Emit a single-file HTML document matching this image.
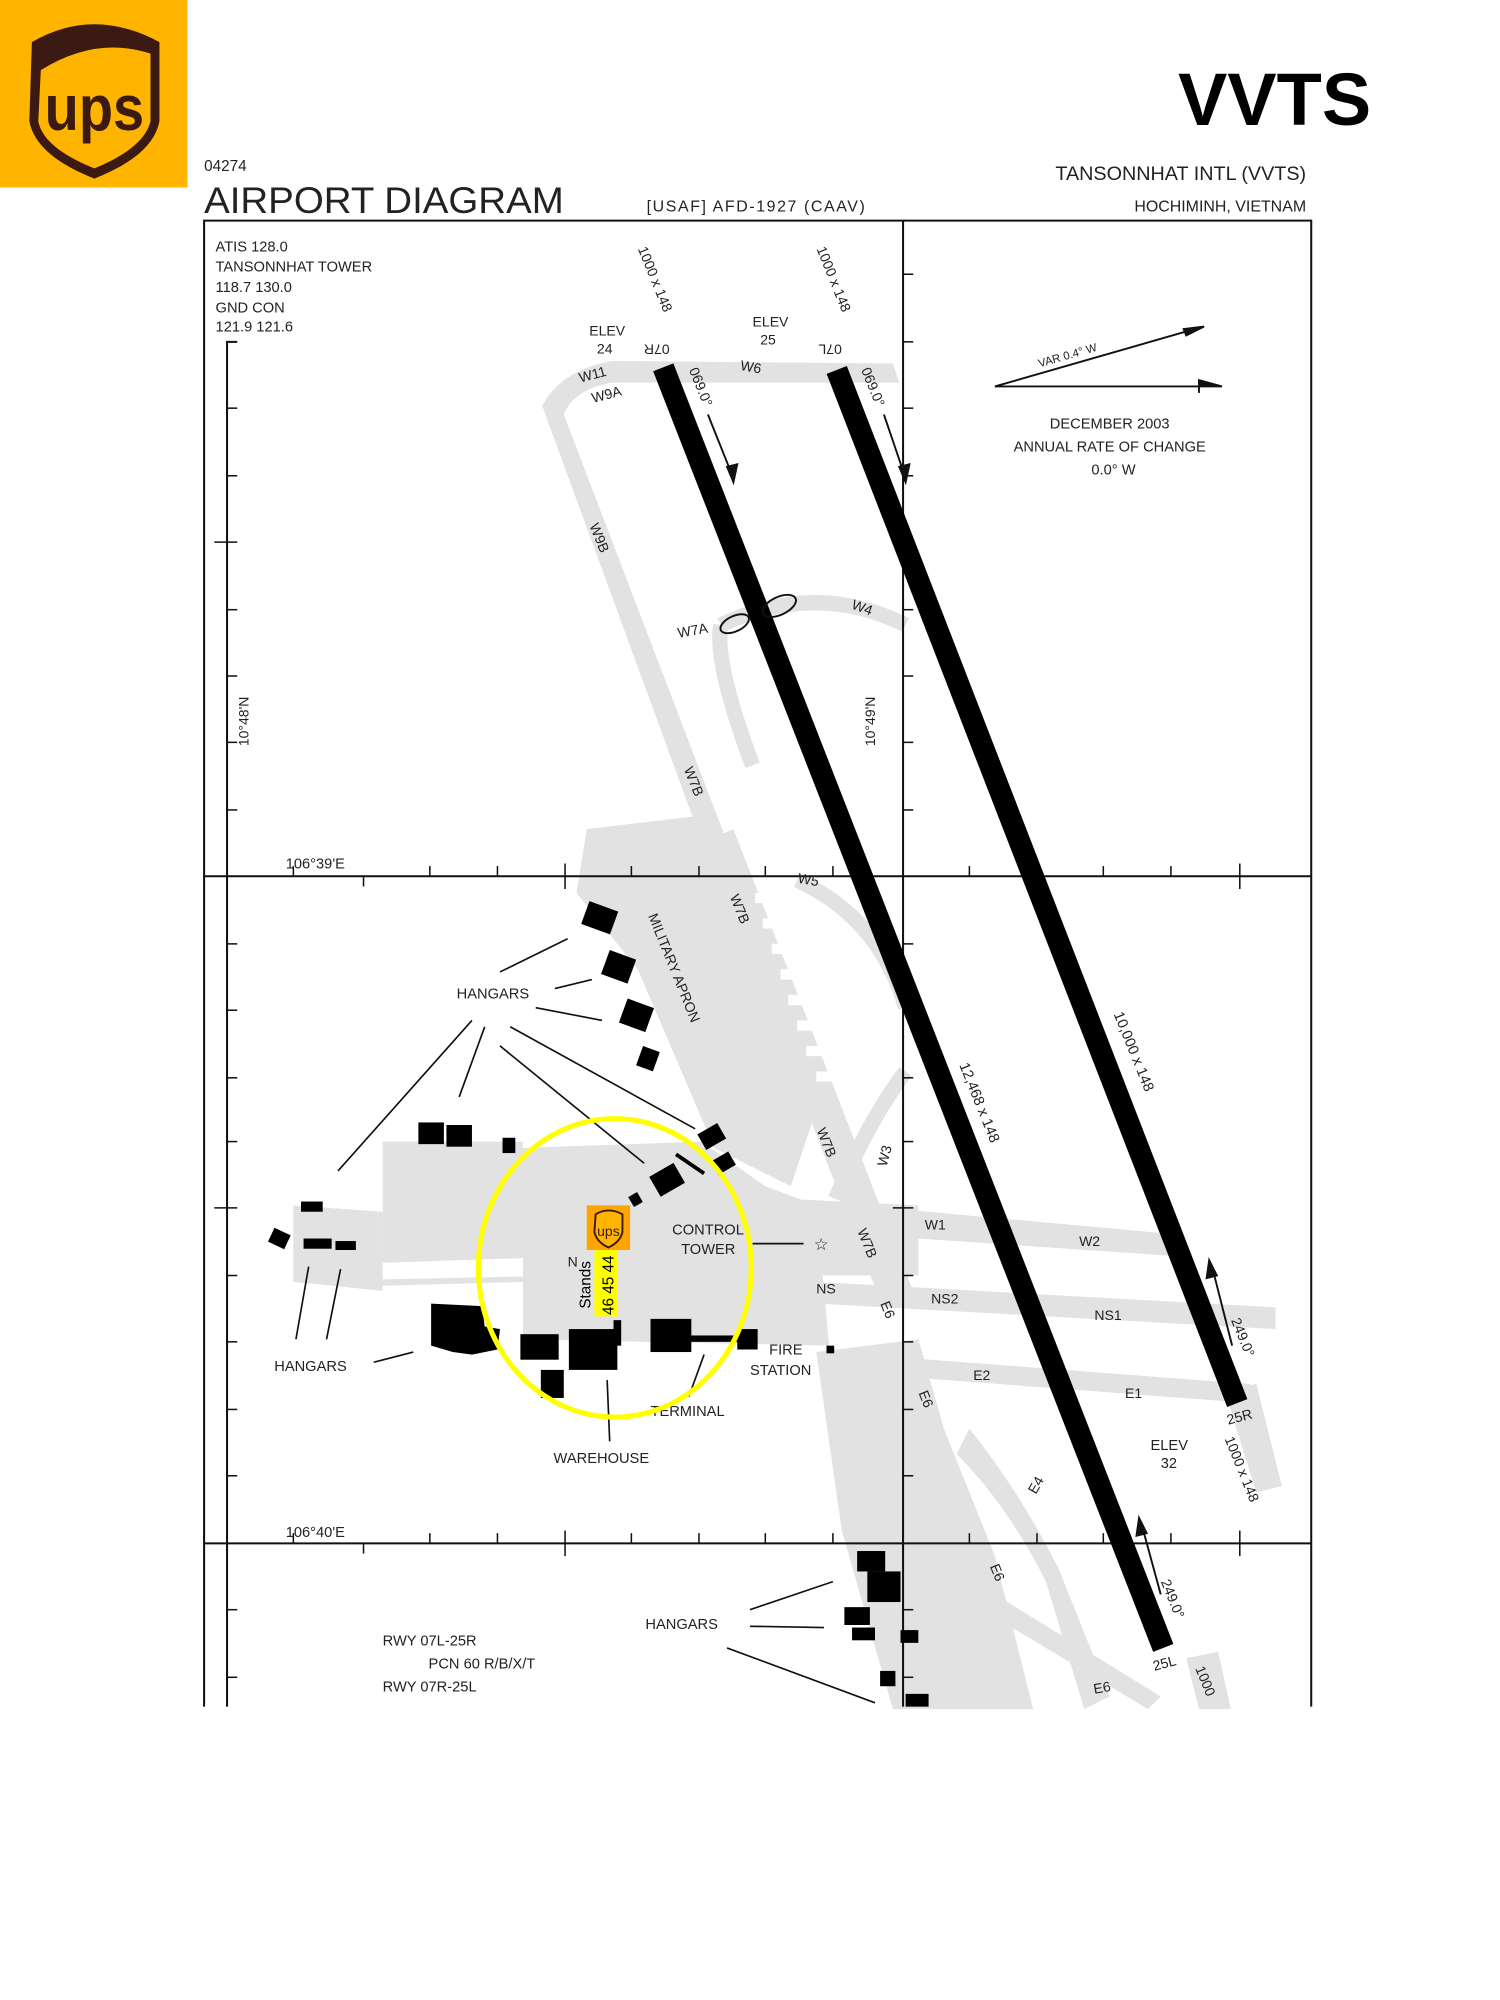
<!DOCTYPE html>
<html><head><meta charset="utf-8"><style>
html,body{margin:0;padding:0;background:#fff;width:1500px;height:2000px;overflow:hidden}
svg{display:block}
text{font-family:"Liberation Sans",sans-serif;fill:#222}
</style></head><body>
<svg width="1500" height="2000" viewBox="0 0 1176 1568" preserveAspectRatio="none" xmlns="http://www.w3.org/2000/svg">
<!-- UPS logo -->
<rect x="0" y="0" width="147" height="147" fill="#FFB500"/>
<path d="M25 33 Q73 5 125 33 L125 95 Q120 122 74 140 Q28 122 23 95 Z" fill="#3a1a12"/>
<path d="M32 55 Q75 28 118 42 L118 95 Q113 116 74 132 Q34 116 30 95 Z" fill="#FFB500"/>
<text x="74" y="102" font-size="50" font-weight="bold" text-anchor="middle" style="fill:#3a1a12" textLength="78" lengthAdjust="spacingAndGlyphs">ups</text>
<text x="1075" y="98" font-size="58" font-weight="bold" text-anchor="end" style="fill:#000">VVTS</text>

<text x="160" y="134" font-size="12">04274</text>
<text x="160" y="167" font-size="29" textLength="282" lengthAdjust="spacingAndGlyphs">AIRPORT DIAGRAM</text>
<text x="507" y="166" font-size="12.5" textLength="171">[USAF] AFD-1927 (CAAV)</text>
<text x="1024" y="141" font-size="15.5" text-anchor="end">TANSONNHAT INTL   (VVTS)</text>
<text x="1024" y="166" font-size="12.5" text-anchor="end">HOCHIMINH, VIETNAM</text>

<!-- grey taxiways/aprons -->
<g fill="#e2e2e2" stroke="none">
<path d="M425 318 Q440 290 480 283 L700 285 L705 300 L480 300 Q450 305 442 325 L570 660 L552 665 Z"/>
<path d="M552 660 L575 650 L715 1010 L690 1020 Z"/>
<path d="M460 650 L545 640 L640 870 L620 930 L560 900 L500 760 L452 700 Z"/>
<path d="M300 895 L410 895 L410 1005 L300 1008 Z"/>
<path d="M230 945 L300 950 L300 1012 L230 1005 Z"/>
<path d="M300 990 L450 985 L450 1000 L300 1003 Z" fill="#fff"/>
<path d="M410 900 L550 895 L600 930 L640 945 L650 1055 L410 1050 Z"/>
<path d="M620 940 L720 945 L720 1000 L640 1000 Z"/>
<path d="M705 948 L925 968 L925 985 L705 970 Z"/>
<path d="M640 1005 L1000 1025 L1000 1042 L640 1022 Z"/>
<path d="M650 1060 L980 1085 L980 1100 L650 1075 Z"/>
<path d="M960 1090 L985 1085 L1005 1165 L985 1170 Z"/>
<path d="M640 1060 L720 1050 L740 1120 L780 1220 L810 1340 L700 1340 L660 1200 Z"/>
<path d="M760 1120 Q800 1170 830 1230 L870 1330 L850 1340 L820 1240 Q790 1180 750 1140 Z"/>
<path d="M780 1250 L910 1330 L900 1340 L775 1265 Z"/>
<path d="M930 1300 L955 1295 L965 1340 L940 1340 Z"/>
</g>
<g fill="none" stroke="#e2e2e2" stroke-width="12">
<path d="M565 490 Q640 455 710 490"/>
<path d="M625 690 Q690 720 710 790"/>
<path d="M655 940 Q680 880 710 840"/>
<path d="M590 600 Q560 520 565 490"/>
</g>
<g fill="#fff">
<rect x="592" y="700" width="14" height="8"/><rect x="598" y="720" width="14" height="8"/><rect x="605" y="740" width="14" height="8"/><rect x="612" y="760" width="14" height="8"/><rect x="618" y="780" width="14" height="8"/><rect x="625" y="800" width="14" height="8"/><rect x="632" y="820" width="14" height="8"/><rect x="640" y="840" width="14" height="8"/>
</g>

<!-- frame -->
<g stroke="#111" fill="none" stroke-width="1.6">
<path d="M160 1338 L160 173 L1028 173 L1028 1338"/>
<line x1="708" y1="173" x2="708" y2="1338"/>
<line x1="160" y1="687" x2="1028" y2="687"/>
<line x1="160" y1="1210" x2="1028" y2="1210"/>
<path d="M186 268 L178 268 L178 1338"/>
</g>
<g stroke="#111" stroke-width="1.2">
<line x1="178" y1="320" x2="186" y2="320"/><line x1="168" y1="425" x2="186" y2="425"/><line x1="178" y1="373" x2="186" y2="373"/><line x1="178" y1="478" x2="186" y2="478"/><line x1="178" y1="530" x2="186" y2="530"/><line x1="178" y1="582" x2="186" y2="582"/><line x1="178" y1="635" x2="186" y2="635"/><line x1="178" y1="740" x2="186" y2="740"/><line x1="178" y1="792" x2="186" y2="792"/><line x1="178" y1="845" x2="186" y2="845"/><line x1="168" y1="947" x2="186" y2="947"/><line x1="178" y1="895" x2="186" y2="895"/><line x1="178" y1="1000" x2="186" y2="1000"/><line x1="178" y1="1052" x2="186" y2="1052"/><line x1="178" y1="1105" x2="186" y2="1105"/><line x1="178" y1="1157" x2="186" y2="1157"/><line x1="178" y1="1262" x2="186" y2="1262"/><line x1="178" y1="1315" x2="186" y2="1315"/>
<line x1="708" y1="215" x2="716" y2="215"/><line x1="708" y1="268" x2="716" y2="268"/><line x1="708" y1="320" x2="716" y2="320"/><line x1="708" y1="373" x2="716" y2="373"/><line x1="700" y1="425" x2="716" y2="425"/><line x1="708" y1="478" x2="716" y2="478"/><line x1="708" y1="530" x2="716" y2="530"/><line x1="708" y1="582" x2="716" y2="582"/><line x1="708" y1="635" x2="716" y2="635"/><line x1="708" y1="740" x2="716" y2="740"/><line x1="708" y1="792" x2="716" y2="792"/><line x1="708" y1="845" x2="716" y2="845"/><line x1="700" y1="947" x2="716" y2="947"/><line x1="708" y1="895" x2="716" y2="895"/><line x1="708" y1="1000" x2="716" y2="1000"/><line x1="708" y1="1052" x2="716" y2="1052"/><line x1="708" y1="1105" x2="716" y2="1105"/><line x1="708" y1="1157" x2="716" y2="1157"/><line x1="708" y1="1262" x2="716" y2="1262"/><line x1="708" y1="1315" x2="716" y2="1315"/>
<line x1="230" y1="687" x2="230" y2="679"/><line x1="285" y1="687" x2="285" y2="695"/><line x1="337" y1="687" x2="337" y2="679"/><line x1="390" y1="687" x2="390" y2="679"/><line x1="443" y1="677" x2="443" y2="697"/><line x1="495" y1="687" x2="495" y2="679"/><line x1="548" y1="687" x2="548" y2="679"/><line x1="600" y1="687" x2="600" y2="679"/><line x1="653" y1="687" x2="653" y2="679"/><line x1="760" y1="687" x2="760" y2="679"/><line x1="813" y1="687" x2="813" y2="679"/><line x1="865" y1="687" x2="865" y2="679"/><line x1="918" y1="687" x2="918" y2="679"/><line x1="972" y1="677" x2="972" y2="697"/>
<line x1="230" y1="1210" x2="230" y2="1202"/><line x1="285" y1="1210" x2="285" y2="1218"/><line x1="337" y1="1210" x2="337" y2="1202"/><line x1="390" y1="1210" x2="390" y2="1202"/><line x1="443" y1="1200" x2="443" y2="1220"/><line x1="495" y1="1210" x2="495" y2="1202"/><line x1="548" y1="1210" x2="548" y2="1202"/><line x1="600" y1="1210" x2="600" y2="1202"/><line x1="653" y1="1210" x2="653" y2="1202"/><line x1="760" y1="1210" x2="760" y2="1202"/><line x1="813" y1="1210" x2="813" y2="1202"/><line x1="865" y1="1210" x2="865" y2="1202"/><line x1="918" y1="1210" x2="918" y2="1202"/><line x1="972" y1="1200" x2="972" y2="1220"/>
</g>

<!-- runways -->
<line x1="520" y1="288" x2="912" y2="1292" stroke="#000" stroke-width="17"/>
<line x1="656" y1="290" x2="970" y2="1100" stroke="#000" stroke-width="17"/>
<ellipse cx="576" cy="489" rx="12" ry="6" fill="none" stroke="#111" stroke-width="1.5" transform="rotate(-25 576 489)"/>
<ellipse cx="611" cy="475" rx="14" ry="7" fill="none" stroke="#111" stroke-width="1.5" transform="rotate(-25 611 475)"/>

<!-- variation arrows -->
<g stroke="#111" stroke-width="1.5" fill="#111">
<line x1="780" y1="303" x2="940" y2="257"/>
<line x1="780" y1="303" x2="940" y2="303"/>
<polygon points="940,303 958,303 940,298 940,308" />
<polygon points="944,256 928,258 930,263"/>
<line x1="555" y1="325" x2="575" y2="375"/><polygon points="575,378 570,366 578,364"/>
<line x1="693" y1="325" x2="710" y2="375"/><polygon points="710,378 705,366 713,364"/>
<line x1="966" y1="1055" x2="950" y2="992"/><polygon points="948,988 946,1002 954,1000"/>
<line x1="910" y1="1250" x2="895" y2="1195"/><polygon points="893,1190 891,1204 899,1202"/>
</g>

<!-- buildings -->
<g fill="#000">
<rect x="458" y="710" width="24" height="19" transform="rotate(20 470 720)"/>
<rect x="474" y="748" width="22" height="20" transform="rotate(20 485 758)"/>
<rect x="488" y="786" width="22" height="20" transform="rotate(20 499 796)"/>
<rect x="501" y="822" width="14" height="16" transform="rotate(20 508 830)"/>
<rect x="328" y="880" width="20" height="17"/><rect x="350" y="882" width="20" height="17"/><rect x="394" y="892" width="10" height="12"/>
<rect x="549" y="884" width="18" height="14" transform="rotate(-30 558 891)"/>
<rect x="559" y="906" width="16" height="12" transform="rotate(-30 567 912)"/>
<rect x="512" y="916" width="22" height="18" transform="rotate(-30 523 925)"/>
<rect x="494" y="936" width="8" height="9" transform="rotate(-30 498 940)"/>
<line x1="530" y1="905" x2="552" y2="920" stroke="#000" stroke-width="3"/>
<rect x="236" y="942" width="17" height="8"/><rect x="212" y="965" width="14" height="12" transform="rotate(25 219 971)"/><rect x="238" y="971" width="22" height="8"/><rect x="263" y="973" width="16" height="7"/>
<path d="M338 1022 L378 1024 L380 1040 L392 1042 L390 1058 L370 1062 L355 1060 L338 1055 Z"/>
<rect x="408" y="1046" width="30" height="20"/><rect x="446" y="1042" width="38" height="32"/><rect x="481" y="1035" width="6" height="20"/><rect x="424" y="1074" width="18" height="22"/>
<rect x="510" y="1034" width="32" height="26"/><rect x="540" y="1047" width="40" height="5"/><rect x="578" y="1042" width="16" height="16"/>
<rect x="648" y="1055" width="6" height="6"/>
<rect x="672" y="1216" width="22" height="16"/><rect x="680" y="1232" width="26" height="24"/><rect x="662" y="1260" width="20" height="14"/><rect x="668" y="1276" width="18" height="10"/><rect x="706" y="1278" width="14" height="10"/><rect x="690" y="1310" width="12" height="12"/><rect x="710" y="1328" width="18" height="10"/>
</g>

<!-- arrows for labels -->
<g stroke="#111" stroke-width="1.3" fill="none">
<line x1="392" y1="762" x2="445" y2="736"/><line x1="435" y1="775" x2="464" y2="768"/><line x1="420" y1="790" x2="472" y2="800"/>
<line x1="370" y1="800" x2="265" y2="918"/><line x1="380" y1="805" x2="360" y2="860"/><line x1="392" y1="820" x2="505" y2="912"/><line x1="400" y1="805" x2="545" y2="885"/>
<line x1="232" y1="1050" x2="242" y2="993"/><line x1="256" y1="1050" x2="267" y2="995"/><line x1="293" y1="1068" x2="324" y2="1060"/>
<line x1="478" y1="1130" x2="476" y2="1082"/><line x1="540" y1="1095" x2="552" y2="1062"/>
<line x1="590" y1="975" x2="630" y2="975"/>
<line x1="588" y1="1262" x2="653" y2="1240"/><line x1="588" y1="1275" x2="646" y2="1276"/><line x1="570" y1="1292" x2="686" y2="1335"/>
</g>
<text x="638" y="980" font-size="13">☆</text>

<!-- text labels -->
<g font-size="11.5">
<text x="169" y="197">ATIS  128.0</text>
<text x="169" y="213">TANSONNHAT TOWER</text>
<text x="169" y="229">118.7  130.0</text>
<text x="169" y="245">GND CON</text>
<text x="169" y="260">121.9  121.6</text>
<text x="462" y="263" font-size="11">ELEV</text><text x="468" y="277" font-size="11">24</text>
<text x="590" y="256" font-size="11">ELEV</text><text x="596" y="270" font-size="11">25</text>
<text x="455" y="300" font-size="11" transform="rotate(-15 455 300)">W11</text>
<text x="465" y="316" font-size="11" transform="rotate(-15 465 316)">W9A</text>
<text x="580" y="290" font-size="11" transform="rotate(10 580 290)">W6</text>
<text x="505" y="278" font-size="11" transform="rotate(180 515 274)">07R</text>
<text x="640" y="278" font-size="11" transform="rotate(180 650 274)">07L</text>
<text x="500" y="195" font-size="11" transform="rotate(68 500 195)">1000 x 148</text>
<text x="640" y="195" font-size="11" transform="rotate(68 640 195)">1000 x 148</text>
<text x="540" y="290" font-size="11" transform="rotate(68 540 290)">069.0°</text>
<text x="675" y="290" font-size="11" transform="rotate(68 675 290)">069.0°</text>
<text x="815" y="288" font-size="9" transform="rotate(-16 815 288)">VAR 0.4° W</text>
<text x="870" y="336" text-anchor="middle">DECEMBER 2003</text>
<text x="870" y="354" text-anchor="middle">ANNUAL RATE OF CHANGE</text>
<text x="873" y="372" text-anchor="middle">0.0° W</text>
<text x="462" y="412" font-size="11" transform="rotate(68 462 412)">W9B</text>
<text x="532" y="500" font-size="11" transform="rotate(-10 532 500)">W7A</text>
<text x="667" y="477" font-size="11" transform="rotate(20 667 477)">W4</text>
<text x="195" y="585" font-size="11" transform="rotate(90 195 585) rotate(180 195 585)">10°48'N</text>
<text x="686" y="585" font-size="11" transform="rotate(90 686 585) rotate(180 686 585)">10°49'N</text>
<text x="536" y="603" font-size="11" transform="rotate(68 536 603)">W7B</text>
<text x="224" y="681">106°39'E</text>
<text x="625" y="692" font-size="11" transform="rotate(10 625 692)">W5</text>
<text x="572" y="703" font-size="11" transform="rotate(68 572 703)">W7B</text>
<text x="508" y="718" font-size="11" transform="rotate(68 508 718)">MILITARY APRON</text>
<text x="358" y="783">HANGARS</text>
<text x="873" y="795" font-size="11.5" transform="rotate(68 873 795)">10,000 x 148</text>
<text x="752" y="835" font-size="11.5" transform="rotate(68 752 835)">12,468 x 148</text>
<text x="640" y="886" font-size="11" transform="rotate(68 640 886)">W7B</text>
<text x="695" y="915" font-size="11" transform="rotate(-75 695 915)">W3</text>
<text x="527" y="968">CONTROL</text><text x="534" y="983">TOWER</text>
<text x="725" y="964" font-size="11">W1</text>
<text x="846" y="977" font-size="11">W2</text>
<text x="672" y="965" font-size="11" transform="rotate(68 672 965)">W7B</text>
<text x="640" y="1014" font-size="11">NS</text>
<text x="730" y="1022" font-size="11">NS2</text>
<text x="858" y="1035" font-size="11">NS1</text>
<text x="690" y="1022" font-size="11" transform="rotate(68 690 1022)">E6</text>
<text x="965" y="1035" font-size="11" transform="rotate(68 965 1035)">249.0°</text>
<text x="445" y="993" font-size="11">N</text>
<text x="215" y="1075">HANGARS</text>
<text x="603" y="1062">FIRE</text><text x="588" y="1078">STATION</text>
<text x="763" y="1082" font-size="11">E2</text>
<text x="882" y="1096" font-size="11">E1</text>
<text x="720" y="1092" font-size="11" transform="rotate(68 720 1092)">E6</text>
<text x="510" y="1110">TERMINAL</text>
<text x="963" y="1117" font-size="11" transform="rotate(-15 963 1117)">25R</text>
<text x="902" y="1137">ELEV</text><text x="910" y="1151">32</text>
<text x="960" y="1128" font-size="11" transform="rotate(68 960 1128)">1000 x 148</text>
<text x="434" y="1147">WAREHOUSE</text>
<text x="812" y="1172" font-size="11" transform="rotate(-60 812 1172)">E4</text>
<text x="224" y="1205">106°40'E</text>
<text x="776" y="1228" font-size="11" transform="rotate(68 776 1228)">E6</text>
<text x="910" y="1240" font-size="11" transform="rotate(68 910 1240)">249.0°</text>
<text x="506" y="1277">HANGARS</text>
<text x="300" y="1290">RWY 07L-25R</text>
<text x="336" y="1308">PCN 60 R/B/X/T</text>
<text x="300" y="1326">RWY 07R-25L</text>
<text x="905" y="1310" font-size="11" transform="rotate(-15 905 1310)">25L</text>
<text x="858" y="1328" font-size="11" transform="rotate(-10 858 1328)">E6</text>
<text x="937" y="1308" font-size="11" transform="rotate(68 937 1308)">1000</text>
</g>

<!-- yellow circle and UPS stands -->
<ellipse cx="482" cy="994" rx="107" ry="117" fill="none" stroke="#ffff00" stroke-width="4"/>
<rect x="460" y="945" width="34" height="35" fill="#FFA500"/>
<path d="M467 952 Q477 946 488 952 L488 966 Q486 974 477 978 Q468 974 466 966 Z" fill="#FFB500" stroke="#3a1a12" stroke-width="1.5"/>
<text x="477" y="969" font-size="11" text-anchor="middle" style="fill:#3a1a12">ups</text>
<rect x="466" y="980" width="18" height="52" fill="#ffff00"/>
<text font-size="12" transform="translate(481 1031) rotate(-90)" style="fill:#000">46 45 44</text>
<text font-size="12" transform="translate(463 1026) rotate(-90)" style="fill:#000">Stands</text>
</svg>
</body></html>
